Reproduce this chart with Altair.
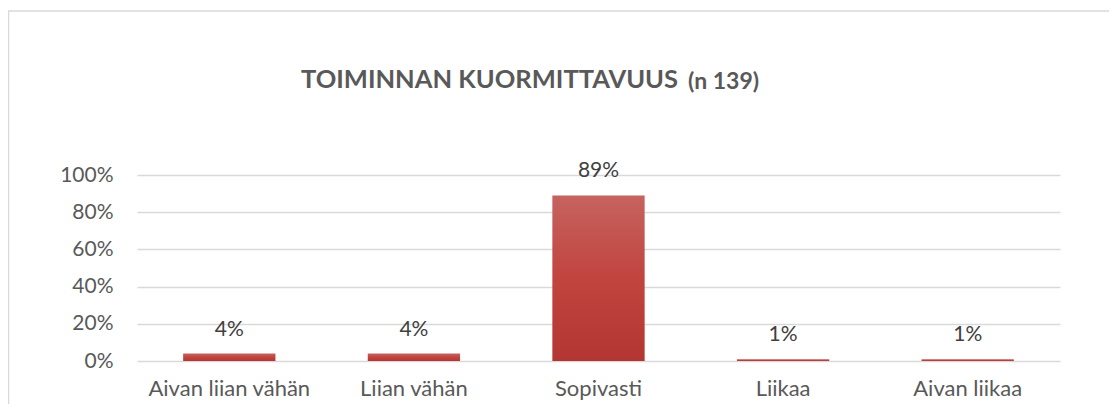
import altair as alt
import pandas as pd

categories = ["Aivan liian vähän", "Liian vähän", "Sopivasti", "Liikaa", "Aivan liikaa"]
values = [0.04, 0.04, 0.89, 0.01, 0.01]
y_ticks = [0, 0.2, 0.4, 0.6, 0.8, 1.0]
title_main = "TOIMINNAN KUORMITTAVUUS"
title_n = "(n 139)"

df = pd.DataFrame({"cat": categories, "val": values})
one = pd.DataFrame({"k": [0]})

FONT = "Lato"

base = alt.Chart(df).encode(
    x=alt.X(
        "cat:N",
        sort=categories,
        scale=alt.Scale(paddingInner=0.5, paddingOuter=0.25),
        axis=alt.Axis(
            title=None, labelAngle=0, ticks=False, tickSize=0, domain=False,
            labelFont=FONT, labelFontSize=22, labelColor="#595959",
            labelPadding=17, grid=False,
        ),
    ),
    y=alt.Y(
        "val:Q",
        scale=alt.Scale(domain=[0, 1]),
        axis=alt.Axis(
            title=None, format=".0%", values=y_ticks, ticks=False, tickSize=0,
            domain=False, labelFont=FONT, labelFontSize=21, labelColor="#595959",
            labelPadding=24, grid=True, gridColor="#d9d9d9", gridWidth=1.4,
        ),
    ),
)

bars = base.mark_bar(
    color=alt.Gradient(
        gradient="linear", x1=0, x2=0, y1=0, y2=1,
        stops=[
            alt.GradientStop(color="#c6635f", offset=0),
            alt.GradientStop(color="#c1443f", offset=0.5),
            alt.GradientStop(color="#b43633", offset=1),
        ],
    )
)

labels = base.mark_text(
    dy=-24, baseline="middle", font=FONT, fontSize=21, color="#404040"
).encode(text=alt.Text("val:Q", format=".0%"))

frame = alt.Chart(one).mark_rect(
    fillOpacity=0, stroke="#d9d9d9", strokeWidth=1.5
).encode(x=alt.value(-128.5), x2=alt.value(1100), y=alt.value(-164), y2=alt.value(400))

t_main = alt.Chart(one).mark_text(
    text=title_main, align="right", baseline="alphabetic", font=FONT,
    fontSize=25.5, fontWeight="bold", color="#595959"
).encode(x=alt.value(541), y=alt.value(-87))

t_n = alt.Chart(one).mark_text(
    text=title_n, align="left", baseline="alphabetic", font=FONT,
    fontSize=23, fontWeight="bold", color="#595959"
).encode(x=alt.value(551), y=alt.value(-86))

chart = alt.layer(frame, bars, labels, t_main, t_n).properties(
    width=923, height=186,
    autosize=alt.AutoSizeParams(type="none"),
    padding={"left": 129, "top": 167, "right": 49, "bottom": 43},
).configure_view(stroke=None)

chart.save("out.html", embed_options={"renderer": "svg", "actions": False})
